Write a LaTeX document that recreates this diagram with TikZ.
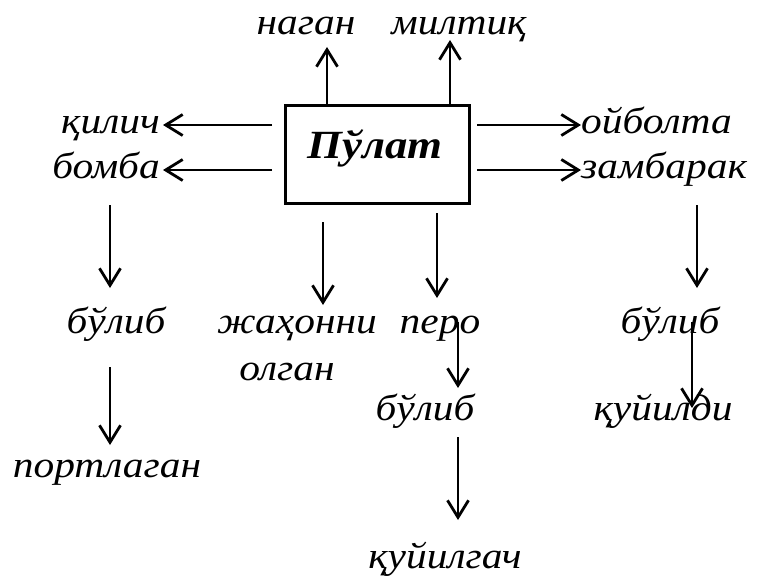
\documentclass[tikz,border=0pt]{standalone}
\usepackage{fontspec}
\setmainfont{Liberation Serif}[FakeStretch=1.12]
\usetikzlibrary{arrows.meta}
\tikzset{
  lbl/.style={inner sep=0pt, anchor=base, font=\fontsize{37}{40}\selectfont\itshape},
  arr/.style={line width=2.8pt, -{Straight Barb[length=17pt,width=21pt,line width=2.8pt]}},
  boxst/.style={draw, line width=3pt, minimum width=184pt, minimum height=98pt, inner sep=0pt}
}
\begin{document}
\begin{tikzpicture}[x=1pt,y=-1pt]
\useasboundingbox (0,0) rectangle (757,586);
% central box
\node[boxst] (box) at (377,154) {};
\node[lbl, font=\fontsize{40}{42}\selectfont\bfseries\itshape] (pulat) at (375,158) {Пўлат};
% top labels
\node[lbl] (nagan) at (306,35) {наган};
\node[lbl] (miltiq) at (459,35) {милтиқ};
% side labels
\node[lbl, anchor=base east] (qilich) at (160,133) {қилич};
\node[lbl, anchor=base east] (bomba) at (160,178) {бомба};
\node[lbl, anchor=base west] (oybolta) at (581,133) {ойболта};
\node[lbl, anchor=base west] (zambarak) at (581,178) {замбарак};
% lower labels
\node[lbl] (bulibA) at (116,333) {бўлиб};
\node[lbl] (portlagan) at (107,477) {портлаган};
\node[lbl] (jahonni) at (297,333) {жаҳонни};
\node[lbl] (olgan) at (287,380) {олган};
\node[lbl] (pero) at (440,333) {перо};
\node[lbl] (bulibB) at (425,420) {бўлиб};
\node[lbl] (quyilgach) at (445,568) {қуйилгач};
\node[lbl] (bulibC) at (670,333) {бўлиб};
\node[lbl] (quyildi) at (663,420) {қуйилди};
% arrow end points
\coordinate (tNagan) at (327,47);
\coordinate (tMiltiq) at (450,40);
\coordinate (sQ) at (272,125); \coordinate (tQ) at (163,125);
\coordinate (sB) at (272,170); \coordinate (tB) at (163,170);
\coordinate (sO) at (477,125); \coordinate (tO) at (581,125);
\coordinate (sZ) at (477,170); \coordinate (tZ) at (581,170);
\coordinate (sA1) at (110,205); \coordinate (tA1) at (110,288);
\coordinate (sA2) at (110,367); \coordinate (tA2) at (110,445);
\coordinate (sJ) at (323,222); \coordinate (tJ) at (323,305);
\coordinate (sP) at (437,213); \coordinate (tP) at (437,298);
\coordinate (sP2) at (458,322); \coordinate (tP2) at (458,388);
\coordinate (sP3) at (458,437); \coordinate (tP3) at (458,520);
\coordinate (sC1) at (697,205); \coordinate (tC1) at (697,288);
\coordinate (sC2) at (692,322); \coordinate (tC2) at (692,408);
% arrows
\draw[arr] (box.north -| tNagan) -- (tNagan);
\draw[arr] (box.north -| tMiltiq) -- (tMiltiq);
\draw[arr] (sQ) -- (tQ);
\draw[arr] (sB) -- (tB);
\draw[arr] (sO) -- (tO);
\draw[arr] (sZ) -- (tZ);
\draw[arr] (sA1) -- (tA1);
\draw[arr] (sA2) -- (tA2);
\draw[arr] (sJ) -- (tJ);
\draw[arr] (sP) -- (tP);
\draw[arr] (sP2) -- (tP2);
\draw[arr] (sP3) -- (tP3);
\draw[arr] (sC1) -- (tC1);
\draw[arr] (sC2) -- (tC2);
\end{tikzpicture}
\end{document}
